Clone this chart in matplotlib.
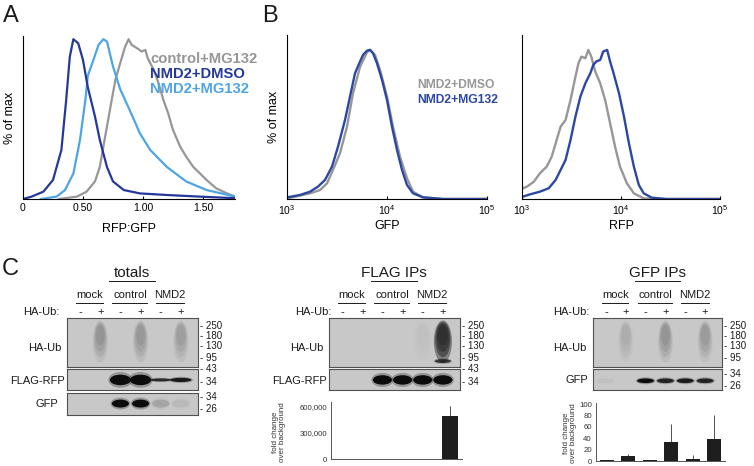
import numpy as np
import matplotlib.pyplot as plt
from matplotlib.patches import Ellipse
from matplotlib.transforms import blended_transform_factory

W, H = 754, 466
plt.rcParams['font.family'] = ['Liberation Sans', 'DejaVu Sans']
plt.rcParams['mathtext.fontset'] = 'custom'
plt.rcParams['mathtext.rm'] = 'Liberation Sans'
plt.rcParams['axes.linewidth'] = 0.8

GRAY = '#979797'
DARK = '#24399a'
LIGHT = '#4ea5e6'
BLUE_B = '#2d48a3'
INK = '#1a1a1a'

# ---- A: RFP:GFP ratio, % of max
a_ctrl_x = [0.30, 0.45, 0.53, 0.60, 0.64, 0.68, 0.725, 0.77, 0.81, 0.85, 0.88, 0.905, 0.95, 0.99, 1.02,
            1.04, 1.09, 1.13, 1.17, 1.21, 1.25, 1.31, 1.36, 1.42, 1.475, 1.53, 1.61, 1.70, 1.77]
a_ctrl_y = [0, 1.5, 4.6, 11, 20, 37, 56, 74.5, 85, 95, 100, 96.5, 94.4, 92.3, 93.3,
            88, 80.8, 72.4, 62, 53.7, 43.2, 32.8, 26.5, 20, 16, 11.9, 6.7, 3.5, 1.5]
a_dmso_x = [0.0, 0.072, 0.17, 0.25, 0.32, 0.36, 0.39, 0.42, 0.46, 0.50, 0.54, 0.60, 0.64, 0.70, 0.75,
            0.84, 0.975, 1.20, 1.47, 1.77]
a_dmso_y = [0, 1.5, 4.6, 11.9, 30.7, 62, 89, 100, 97.5, 87, 70, 51.6, 37, 20, 11,
            5.6, 3.5, 2.5, 1.5, 0.5]
a_mg_x = [0.15, 0.28, 0.35, 0.42, 0.475, 0.52, 0.54, 0.59, 0.63, 0.67, 0.70, 0.75, 0.81, 0.89, 0.975,
          1.06, 1.20, 1.36, 1.53, 1.77]
a_mg_y = [0, 1.5, 5.6, 16, 37, 62, 77, 87.7, 96.5, 100, 98.5, 83, 68.7, 55.5, 41,
          30.7, 20, 11, 5.6, 1.5]
a_ticks = [0, 0.5, 1.0, 1.5]
a_ticklabels = ['0', '0.50', '1.00', '1.50']
a_legend = ['control+MG132', 'NMD2+DMSO', 'NMD2+MG132']

# ---- B: GFP and RFP (log10 fluorescence), % of max
b_gfp_dmso_lx = [3.0, 3.23, 3.33, 3.40, 3.46, 3.53, 3.60, 3.66, 3.73, 3.80, 3.83, 3.88, 3.93, 4.00,
                 4.06, 4.13, 4.20, 4.26, 4.36, 4.56, 5.0]
b_gfp_dmso_y = [0.3, 3.8, 6, 10.5, 19.5, 30.7, 48.5, 70.9, 88.6, 98.4, 100, 96.6, 86.6, 68.7,
                48.5, 28.4, 13.9, 4.9, 1.1, 0, 0]
b_gfp_mg_lx = [3.0, 3.13, 3.23, 3.31, 3.38, 3.45, 3.51, 3.58, 3.63, 3.68, 3.73, 3.76, 3.80, 3.83,
               3.86, 3.90, 3.95, 4.00, 4.05, 4.10, 4.15, 4.20, 4.26, 4.36, 4.56, 5.0]
b_gfp_mg_y = [1.1, 2.7, 4.9, 8.3, 12.8, 21.7, 35.1, 53, 68.7, 84.3, 92.2, 96.6, 99.5, 100,
              97.8, 91, 80, 66.4, 48.5, 32.9, 19.5, 9.4, 3.8, 1.1, 0, 0]
b_rfp_dmso_lx = [3.01, 3.05, 3.12, 3.18, 3.25, 3.30, 3.35, 3.39, 3.44, 3.49, 3.54, 3.57, 3.60, 3.64,
                 3.67, 3.70, 3.74, 3.79, 3.84, 3.89, 3.94, 3.99, 4.06, 4.13, 4.23, 4.40, 5.0]
b_rfp_dmso_y = [7.2, 8.3, 11.6, 17.2, 21.7, 28.4, 39.6, 48.5, 53, 66.4, 82.1, 91, 95.5, 94.4,
                100, 95.5, 85.5, 77.6, 66.4, 50.8, 35.1, 21.7, 10.5, 3.8, 0.4, 0, 0]
b_rfp_mg_lx = [3.01, 3.08, 3.18, 3.27, 3.34, 3.39, 3.44, 3.49, 3.54, 3.59, 3.64, 3.69, 3.72, 3.75,
               3.79, 3.82, 3.86, 3.89, 3.92, 3.98, 4.03, 4.08, 4.13, 4.18, 4.23, 4.31, 4.46, 5.0]
b_rfp_mg_y = [1.6, 3.1, 4.9, 7.2, 12.8, 19.5, 26.2, 39.6, 55.3, 68.7, 77.6, 84.3, 89.9, 92.2,
              93.3, 98.9, 100, 92.2, 85.5, 70.9, 55.3, 37.4, 21.7, 9.4, 3.8, 0.9, 0, 0]
b_ticks = [1e3, 1e4, 1e5]
b_ticklabels = ['$10^3$', '$10^4$', '$10^5$']
b_legend = ['NMD2+DMSO', 'NMD2+MG132']

# ---- C: blots (relative band intensity per lane) and quantification
groups = ['mock', 'control', 'NMD2']
ha_ub = ['-', '+', '-', '+', '-', '+']
tot_ub = [0, 0.75, 0, 0.7, 0, 0.6]
tot_flag = [0, 0, 1, 1, 0.8, 0.9]
tot_flag_h = [0, 0, 0.5, 0.5, 0.14, 0.2]
tot_gfp = [0, 0, 1, 1, 0.15, 0.06]
flag_ub = [0, 0, 0, 0, 0.08, 4.5]
flag_ub_95 = [0, 0, 0, 0, 0, 0.7]
flag_flag = [0, 0, 1, 1, 1, 1]
gfp_ub = [0, 0.35, 0, 0.75, 0, 0.62]
gfp_gfp = [0.03, 0, 1, 0.85, 0.9, 0.85]
mw_ub = ['250', '180', '130', '95']
mw_43_34 = ['43', '34']
mw_34_26 = ['34', '26']

lanes = np.arange(6)
flag_bar = [1, 1, 1, 1, 1, 490000]
flag_err = [0, 0, 0, 0, 0, 120000]
gfp_bar = [1.5, 8, 1.5, 33.5, 4, 39.5]
gfp_err = [0.5, 5, 1, 32, 6, 41]

fig = plt.figure(figsize=(W / 100, H / 100), dpi=100)


def px_axes(l, t, r, b):
    return fig.add_axes([l / W, 1 - b / H, (r - l) / W, (b - t) / H])


def fy(y):
    return 1 - y / H


def ftext(x, y, s, **kw):
    fig.text(x / W, fy(y), s, **kw)


def hist_style(ax):
    for s in ['top', 'right']:
        ax.spines[s].set_visible(False)
    ax.set_yticks([])
    ax.tick_params(axis='x', direction='in', length=2.5, labelsize=7.5, pad=3)
    ax.set_ylabel('% of max', fontsize=9, labelpad=5)


# panel A
axA = px_axes(23, 36, 235, 199)
axA.plot(a_ctrl_x, a_ctrl_y, color=GRAY, lw=1.6)
axA.plot(a_mg_x, a_mg_y, color=LIGHT, lw=1.6)
axA.plot(a_dmso_x, a_dmso_y, color=DARK, lw=1.6)
axA.set_xlim(0, 1.767)
axA.set_ylim(0, 102)
hist_style(axA)
axA.set_xticks(a_ticks)
axA.set_xticklabels(a_ticklabels)
axA.set_xlabel('RFP:GFP', fontsize=9, labelpad=7)
for txt, c, y in zip(a_legend, [GRAY, DARK, LIGHT], [59, 74, 89]):
    ftext(150, y, txt, color=c, fontsize=10.6, weight='bold', va='center')

# panel B
for l, r, lx1, y1, lx2, y2, lab in [(287, 487, b_gfp_dmso_lx, b_gfp_dmso_y, b_gfp_mg_lx, b_gfp_mg_y, 'GFP'),
                                     (522, 720, b_rfp_dmso_lx, b_rfp_dmso_y, b_rfp_mg_lx, b_rfp_mg_y, 'RFP')]:
    ax = px_axes(l, 35, r, 199)
    ax.plot(10 ** np.array(lx1), y1, color=GRAY, lw=1.7)
    ax.plot(10 ** np.array(lx2), y2, color=BLUE_B, lw=1.7)
    ax.set_xscale('log')
    ax.set_xlim(1e3, 1e5)
    ax.set_ylim(0, 110)
    ax.minorticks_off()
    ax.set_xticks(b_ticks)
    ax.set_xticklabels(b_ticklabels)
    hist_style(ax)
    ax.set_xlabel(lab, fontsize=9, labelpad=2)
    if lab == 'RFP':
        ax.set_ylabel('')
for txt, c, y in zip(b_legend, [GRAY, BLUE_B], [85, 100]):
    ftext(417, y, txt, color=c, fontsize=8.7, weight='bold', va='center')

for s, x, y in [('A', 3, 16), ('B', 262, 16), ('C', 2, 269)]:
    ftext(x, y, s, fontsize=17, va='center', color=INK)


# panel C helpers
def blot(l, t, r, b):
    ax = px_axes(l, t, r, b)
    ax.set_xlim(-0.65, 5.85)
    ax.set_ylim(0, 1)
    ax.set_facecolor('#c8c8c8')
    ax.set_xticks([])
    ax.set_yticks([])
    for sp in ax.spines.values():
        sp.set_color('#505050')
    return ax


def bands(ax, vals, yc, h, w=0.9, heights=None):
    for i, v in enumerate(vals):
        if v <= 0:
            continue
        hh = heights[i] if heights is not None else h
        ax.add_patch(Ellipse((i, yc), w * 1.15, hh * 1.5, color='#202020', alpha=0.3 * min(v, 1), lw=0))
        ax.add_patch(Ellipse((i, yc), w, hh, color='#0c0c0c', alpha=min(v, 1), lw=0))


# fuzzy ubiquitin smear: stacked soft layers, darkest near the top of the lane
smear_layers = [(0.52, 0.86, 1.0, 0.10), (0.56, 0.72, 0.85, 0.12),
                (0.60, 0.58, 0.72, 0.13), (0.65, 0.42, 0.58, 0.13)]


def smears(ax, vals, w=0.75):
    for i, v in enumerate(vals):
        if v <= 0:
            continue
        for yc, hh, ww, a in smear_layers:
            ax.add_patch(Ellipse((i, yc), w * ww, hh, color='#2a2a2a', alpha=min(0.9, a * v), lw=0))


def mw(ax, labels, fracs):
    for s, f in zip(labels, fracs):
        ax.text(1.012, 1 - f, '- ' + s, transform=ax.transAxes, va='center', ha='left',
                fontsize=7, color=INK)


def header(ax, title, hub_x, half=(0.65, 0.87, 0.7)):
    tr = blended_transform_factory(ax.transData, fig.transFigure)
    ax.text(2.58, fy(273), title, transform=tr, ha='center', va='center', fontsize=11, color=INK)
    ax.plot([1.45, 3.72], [fy(281)] * 2, transform=tr, color=INK, lw=0.7, clip_on=False)
    for g, name in enumerate(groups):
        c = 2 * g + 0.47
        ax.text(c, fy(295), name, transform=tr, ha='center', va='center', fontsize=8, color=INK)
        ax.plot([c - half[g], c + half[g]], [fy(302.5)] * 2, transform=tr, color=INK, lw=0.7, clip_on=False)
    for i, s in enumerate(ha_ub):
        ax.text(i, fy(312), s, transform=tr, ha='center', va='center', fontsize=8, color=INK)
    ftext(hub_x, 312, 'HA-Ub:', ha='right', va='center', fontsize=8, color=INK)


# totals
t1 = blot(67, 318, 198, 367)
smears(t1, tot_ub)
header(t1, 'totals', 60)
mw(t1, mw_ub, [0.16, 0.37, 0.57, 0.82])
t2 = blot(67, 369, 198, 390)
bands(t2, tot_flag, 0.48, 0.5, w=1.05, heights=tot_flag_h)
mw(t2, mw_43_34, [0.0, 0.62])
t3 = blot(67, 393, 198, 415)
bands(t3, tot_gfp, 0.52, 0.36, w=0.85)
mw(t3, mw_34_26, [0.18, 0.73])
ftext(45, 348, 'HA-Ub', ha='center', va='center', fontsize=8, color=INK)
ftext(65, 381, 'FLAG-RFP', ha='right', va='center', fontsize=8, color=INK)
ftext(47, 404, 'GFP', ha='center', va='center', fontsize=8, color=INK)

# FLAG IPs
f1 = blot(329, 318, 460, 367)
smears(f1, flag_ub, w=0.9)
bands(f1, flag_ub_95, 0.12, 0.08, w=0.8)
header(f1, 'FLAG IPs', 332)
mw(f1, mw_ub, [0.16, 0.37, 0.57, 0.82])
f2 = blot(329, 369, 460, 390)
bands(f2, flag_flag, 0.48, 0.45, w=0.95)
mw(f2, mw_43_34, [0.0, 0.62])
ftext(307, 348, 'HA-Ub', ha='center', va='center', fontsize=8, color=INK)
ftext(327, 381, 'FLAG-RFP', ha='right', va='center', fontsize=8, color=INK)

# GFP IPs
g1 = blot(593, 318, 722, 367)
smears(g1, gfp_ub)
header(g1, 'GFP IPs', 590)
mw(g1, mw_ub, [0.16, 0.37, 0.57, 0.82])
g2 = blot(593, 369, 722, 390)
bands(g2, gfp_gfp, 0.44, 0.22, w=0.85)
mw(g2, mw_34_26, [0.24, 0.8])
ftext(570, 348, 'HA-Ub', ha='center', va='center', fontsize=8, color=INK)
ftext(577, 380, 'GFP', ha='center', va='center', fontsize=8, color=INK)


# quantification bars
def bar_style(ax):
    for s in ['top', 'right']:
        ax.spines[s].set_visible(False)
    for s in ['left', 'bottom']:
        ax.spines[s].set_color('#555555')
        ax.spines[s].set_linewidth(0.7)
    ax.set_xticks([])
    ax.tick_params(axis='y', length=0, pad=3, labelsize=5.6, labelcolor='#333333')


bf = px_axes(331, 402, 462, 459)
bf.bar(lanes, flag_bar, width=0.69, color='#1e1e1e',
       yerr=[np.zeros(6), flag_err], error_kw=dict(lw=0.6, ecolor='#333333', capsize=0))
bf.set_xlim(-0.45, 5.55)
bf.set_ylim(0, 657000)
bf.set_yticks([0, 300000, 600000])
bf.set_yticklabels(['0', '300,000', '600,000'])
bar_style(bf)
ftext(279, 432, 'fold change\nover background', rotation=90, ha='center', va='center',
      fontsize=5.8, linespacing=1.0, color='#333333')

bg = px_axes(596, 403, 725, 461)
bg.bar(lanes, gfp_bar, width=0.65, color='#1e1e1e',
       yerr=[np.zeros(6), gfp_err], error_kw=dict(lw=0.6, ecolor='#333333', capsize=0))
bg.set_xlim(-0.49, 5.51)
bg.set_ylim(0, 102)
bg.set_yticks([0, 20, 40, 60, 80, 100])
bar_style(bg)
ftext(570, 433, 'fold change\nover background', rotation=90, ha='center', va='center',
      fontsize=5.8, linespacing=1.0, color='#333333')

fig.savefig('out.png', dpi=100)
